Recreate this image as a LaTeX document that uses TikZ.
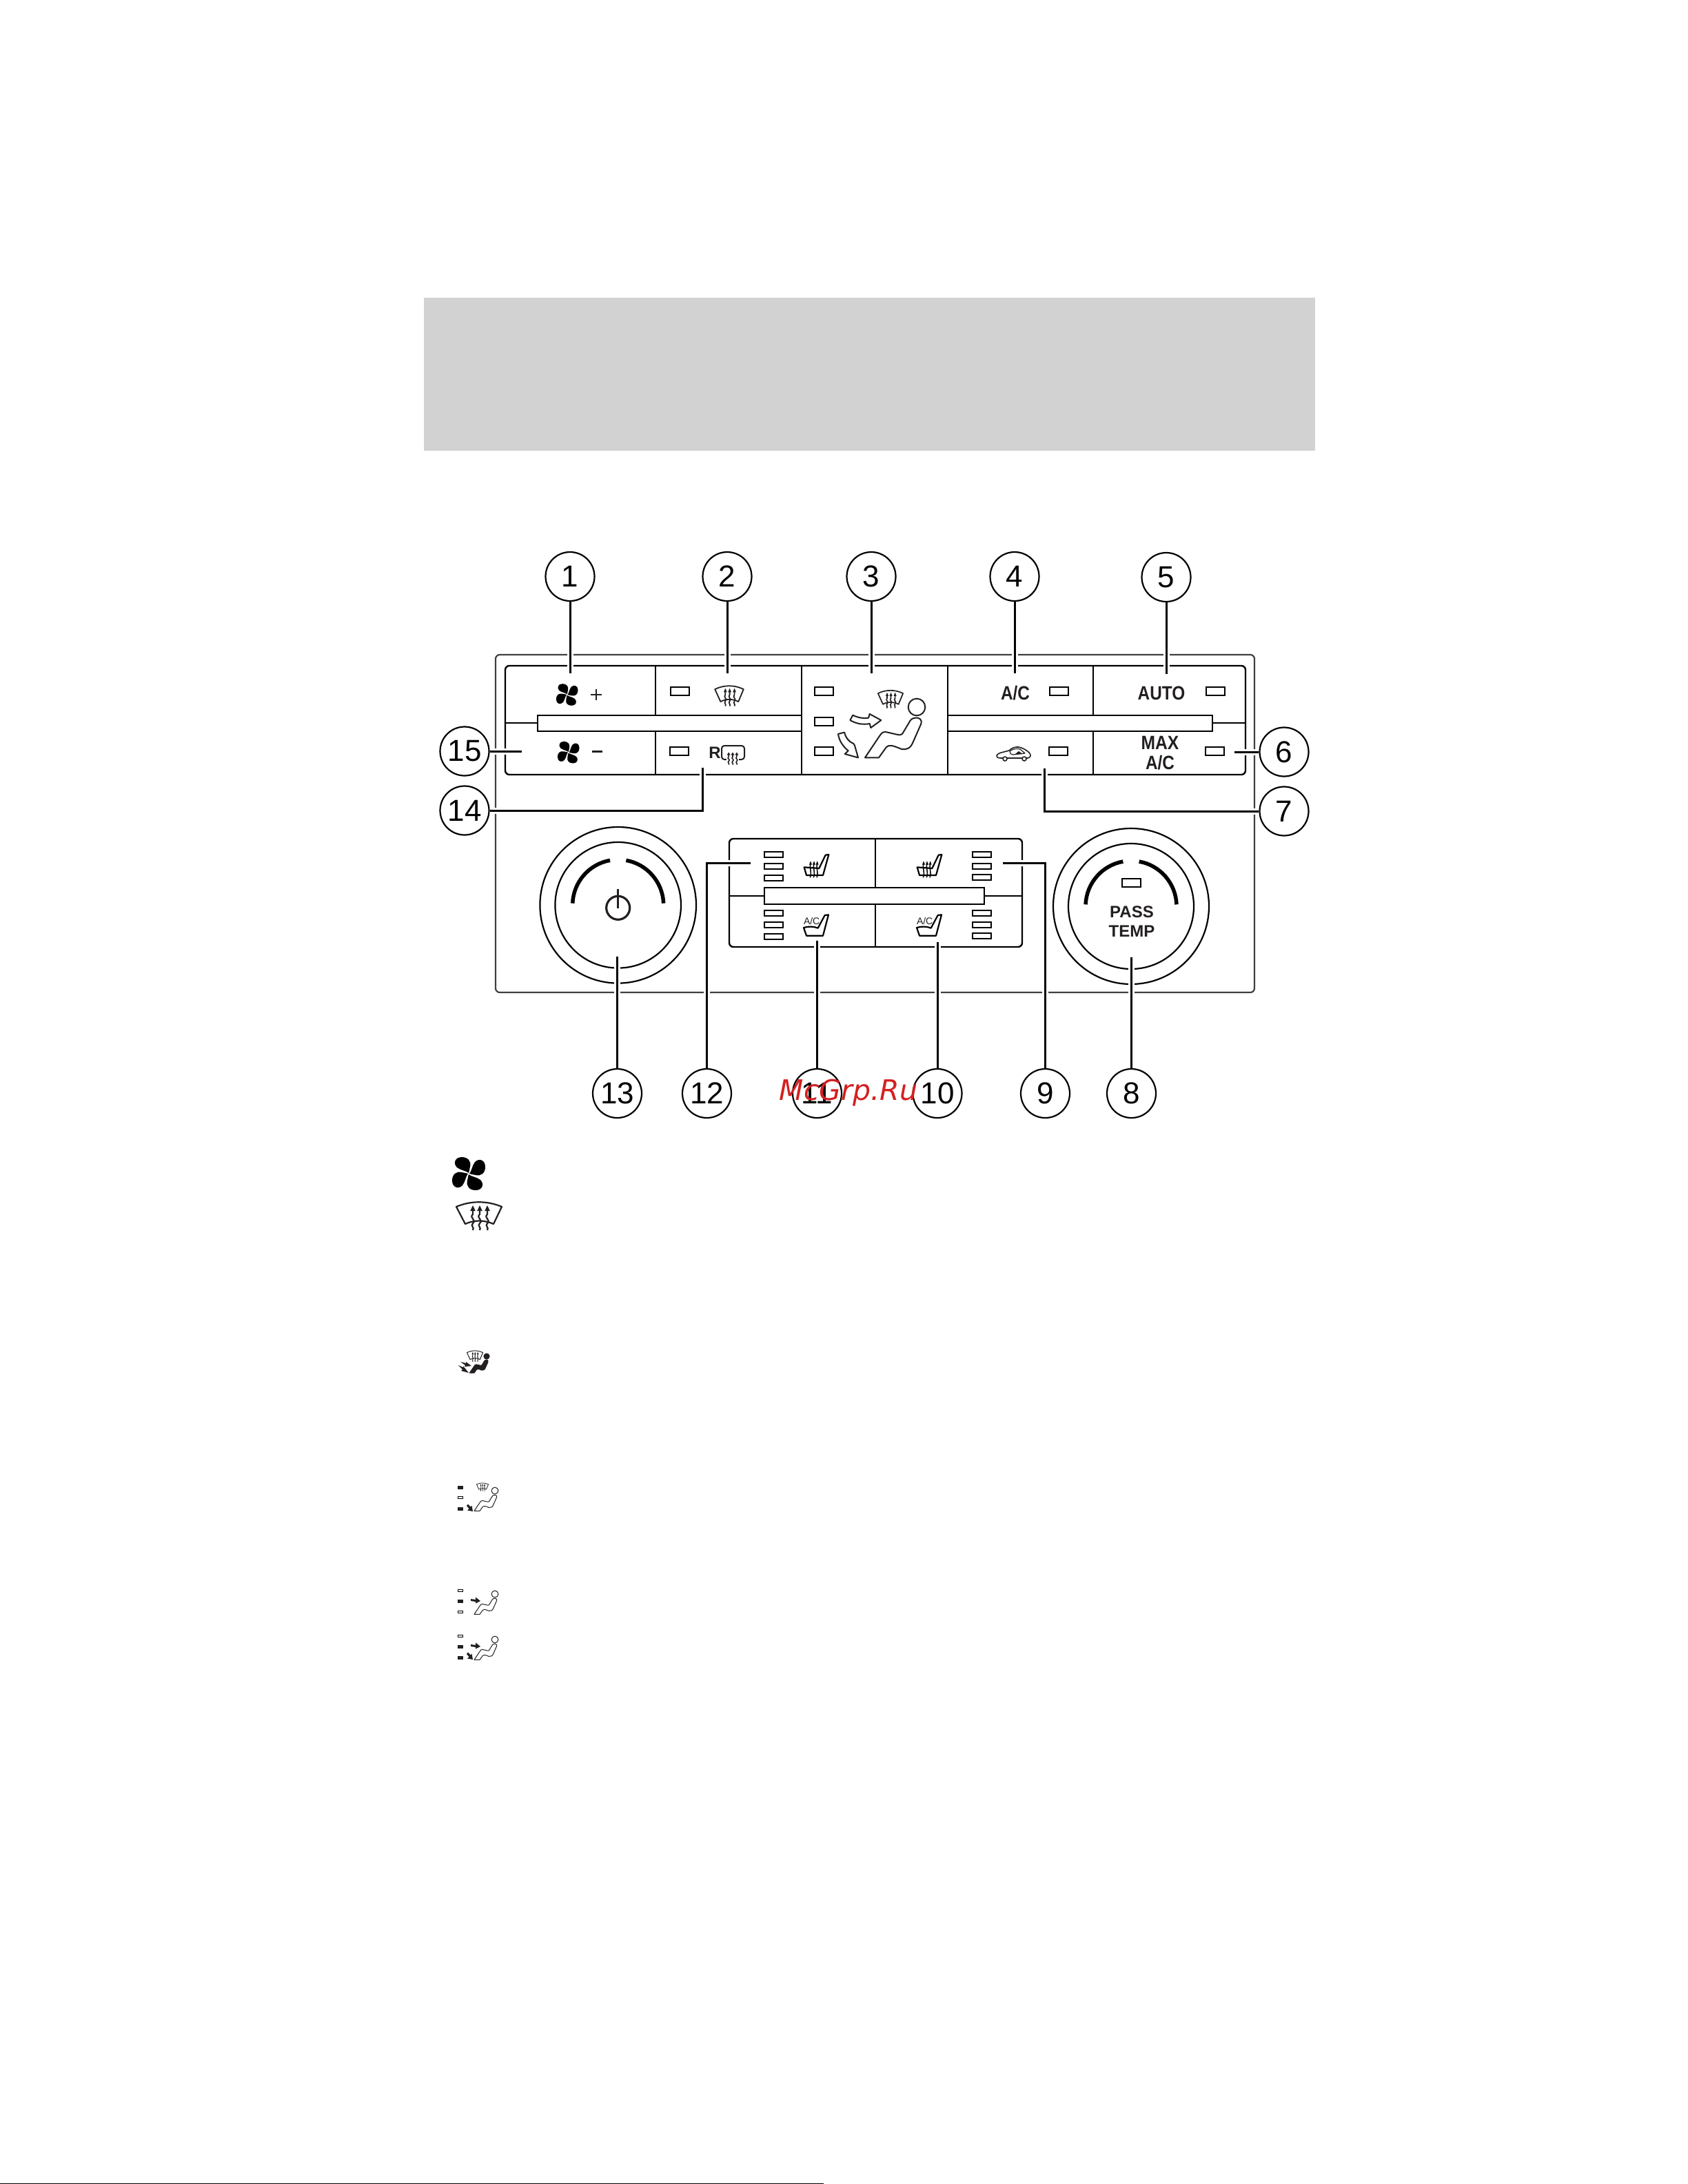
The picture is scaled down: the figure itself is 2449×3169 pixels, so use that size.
\documentclass[tikz,border=0pt]{standalone}
\usepackage{fontspec}
\setmainfont{Liberation Sans}
\newfontfamily\wmfont{DejaVu Sans}
\definecolor{headgray}{HTML}{D2D2D2}
\definecolor{wmred}{HTML}{D42020}
\definecolor{inkdark}{HTML}{231F20}
\newcommand{\fsz}[1]{\fontsize{#1}{#1}\selectfont}
\tikzset{
  callout/.style={circle,draw=black,line width=2.2pt,fill=white,minimum size=71pt,inner sep=0pt,font=\fsz{44}},
  leader/.style={draw=black,line width=3pt,preaction={draw=white,line width=9pt,shorten <=4pt}},
  panelline/.style={draw=black,line width=2.4pt},
  outerline/.style={draw=black!75,line width=2.2pt},
  knobline/.style={draw=black,line width=2.2pt},
  knobarc/.style={draw=black,line width=5.5pt},
  ledbox/.style={rectangle,draw=black,line width=2pt,fill=white,minimum width=27pt,minimum height=12pt,inner sep=0pt},
  seatled/.style={rectangle,draw=black,line width=2pt,fill=white,minimum width=27pt,minimum height=8pt,inner sep=0pt},
  mini/.style={rectangle,draw=black,line width=1pt,fill=white,minimum width=7.5pt,minimum height=3.5pt,inner sep=0pt},
  minion/.style={rectangle,fill=inkdark,minimum width=8.5pt,minimum height=5pt,inner sep=0pt},
  btext/.style={inner sep=0pt,text=inkdark,font=\fsz{28}\bfseries},
  icon/.style={draw=inkdark,line join=round},
}
\newcommand{\fanicon}[3]{\begin{scope}[shift={(#1,#2)},scale=#3]
  \foreach \r in {0,90,180,270}{\fill[black,rotate=\r] (0,-1) .. controls (-3,-4) and (-12,-5) .. (-17,-9) .. controls (-23,-15) and (-20,-24) .. (-10,-24) .. controls (-1,-24) and (4,-18) .. (2,-10) .. controls (1,-6) and (1,-3) .. (0,-1) -- cycle;}
  \fill[white] (0,0) circle (1.5);
\end{scope}}
\newcommand{\wavyarrow}[2]{%
  \draw[icon,line width=#2] (#1,-8) -- (#1,0) .. controls (#1-6,5) and (#1+6,8) .. (#1,13) .. controls (#1-4,17) and (#1+3,19) .. (#1,23);
  \fill[inkdark] (#1,-13) -- (#1-3.8,-5) -- (#1+3.8,-5) -- cycle;}
\newcommand{\defrosticon}[5]{\begin{scope}[shift={(#1,#2)},xscale=#3,yscale=#4]
  \draw[icon,line width=#5] (-33,-11) .. controls (-12,-20) and (12,-20) .. (33,-11) -- (21,14) .. controls (8,8) and (-8,8) .. (-20,14) -- cycle;
  \wavyarrow{-9}{#5}\wavyarrow{1}{#5}\wavyarrow{12}{#5}
\end{scope}}
\newcommand{\personicon}[6]{\begin{scope}[shift={(#1,#2)},scale=#3]
  \draw[icon,line width=#5,fill=#4] (-75,73.3) -- (-55,73.3) -- (-44,58) .. controls (-40,54.5) and (-36,55) .. (-22,61) .. controls (-14,62) and (-9,60) .. (-5,50) -- (6,25) .. controls (9,18) and (3,15) .. (-1,15.5) .. controls (-7,16) and (-9,18) .. (-12,24) -- (-21,39) .. controls (-23,41) and (-25,40.5) .. (-30,39.5) -- (-45,36) .. controls (-50,36) and (-51,38) .. (-54,42) -- cycle;
  \draw[icon,line width=#5,fill=#6] (0,0) circle (12.3);
\end{scope}}
\newcommand{\heatseat}[1]{\begin{scope}[shift={(#1,1190)},scale=1/3]
  \draw[draw=black,line width=2.2pt,line join=round] (440,205) -- (450,240) -- (522,240) -- (547,150) -- (533,152) -- (505,210) -- cycle;
  \foreach \q in {468,483,497}{\draw[black,line width=1.5pt] (\q,188) .. controls (\q-7,205) and (\q+7,225) .. (\q-2,250);
    \fill[black] (\q,178) -- (\q-6,194) -- (\q+6,194) -- cycle;}
\end{scope}}
\newcommand{\acseat}[2]{\begin{scope}[shift={(#1,1190)},scale=1/3]
  \draw[draw=black,line width=2.2pt,line join=round] (438,468) -- (450,503) -- (522,503) -- (546,412) -- (530,414) -- (500,470) .. controls (480,462) and (460,462) .. (438,468) -- cycle;
  \node[inner sep=0pt,font=\fsz{14},text=inkdark] (#2) at (473,440) {A/C};
\end{scope}}
\newcommand{\legendarrowH}[2]{\fill[inkdark,shift={(#1,#2)}] (0,-2) -- (7,-1) -- (7,-4.5) -- (14,1) -- (7,4.5) -- (7,2) -- (0,1) -- cycle;}
\newcommand{\legendarrowD}[2]{\fill[inkdark,shift={(#1,#2)}] (0,2) -- (2,-.5) -- (6,3.5) -- (7.5,1.5) -- (9,10) -- (1,8.5) -- (3.5,6) -- cycle;}
\begin{document}
\begin{tikzpicture}[x=1pt,y=-1pt]
\useasboundingbox (0,0) rectangle (2449,3169);
\fill[white] (0,0) rectangle (2449,3169);
\fill[headgray] (615,432) rectangle (1908,654);
\fill[black] (0,3167.5) rectangle (1195,3169);

% outer panel
\draw[outerline,rounded corners=6pt] (719,950) rectangle (1820,1440);
% button panel
\draw[panelline] (951,966) -- (951,1124) (1163,966) -- (1163,1124) (1375,966) -- (1375,1124) (1586,966) -- (1586,1124);
\draw[panelline] (733,1049) -- (780,1049) (1759,1049) -- (1807,1049);
\draw[panelline,rounded corners=6pt] (733,966) rectangle (1807,1124);
\draw[panelline,fill=white] (780,1038) rectangle (1163,1061);
\draw[panelline,fill=white] (1375,1038) rectangle (1759,1061);

% LEDs, button panel
\node[ledbox] (l1) at (986,1002.5) {};
\node[ledbox] (l2) at (985,1090) {};
\node[ledbox] (l3) at (1195,1002.5) {};
\node[ledbox] (l4) at (1195,1046.5) {};
\node[ledbox] (l5) at (1195,1090) {};
\node[ledbox] (l6) at (1536,1002.5) {};
\node[ledbox] (l7) at (1763.5,1002.5) {};
\node[ledbox] (l8) at (1535.5,1090) {};
\node[ledbox] (l9) at (1762.5,1090) {};

% button icons
\fanicon{822.7}{1008}{.66}
\fanicon{824.7}{1091.7}{.66}
\draw[inkdark,line width=2pt] (857,1008) -- (873,1008) (865,1000) -- (865,1016);
\draw[inkdark,line width=3pt] (859,1090) -- (874,1090);
\defrosticon{1058}{1008}{.63}{.72}{1.8pt}
\node[btext,font=\fsz{24}\bfseries] (rtxt) at (1037,1092) {R};
\draw[icon,line width=2pt,rounded corners=4pt] (1047,1082) rectangle (1080,1102);
\begin{scope}[shift={(1063,1098)},xscale=.65,yscale=.5]
 \fill[white] (-14,-16) rectangle (14,24);
 \wavyarrow{-9}{1.6pt}\wavyarrow{0}{1.6pt}\wavyarrow{9}{1.6pt}
\end{scope}
\draw[icon,line width=2pt] (1047,1092) -- (1047,1095);
\node[btext] (ac) at (1473,1006) {\scalebox{.87}[1]{A/C}};
\node[btext] (auto) at (1685,1006) {\scalebox{.87}[1]{AUTO}};
\node[btext] (max) at (1683,1078) {\scalebox{.88}[1]{MAX}};
\node[btext] (ac2) at (1683,1107) {\scalebox{.87}[1]{A/C}};

% car
\draw[icon,line width=1.6pt,fill=white] (1452,1100) .. controls (1447,1100) and (1445,1098) .. (1446,1096) .. controls (1448,1092) and (1458,1091) .. (1464,1089) .. controls (1468,1085) and (1473,1083.5) .. (1478,1084) .. controls (1484,1085) and (1490,1089) .. (1493,1092) .. controls (1496,1095) and (1496,1099) .. (1491,1100) -- cycle;
\draw[icon,line width=1.6pt,fill=white] (1458,1101) circle (3) (1486,1101) circle (3);
\draw[icon,line width=1.2pt] (1465,1090) .. controls (1470,1086) and (1476,1086) .. (1480,1087) -- (1487,1093) -- (1470,1095) .. controls (1466,1095) and (1465,1092) .. (1465,1090);
\fill[inkdark] (1473,1094) -- (1478,1090) -- (1484,1094) -- cycle;

% central mode icon
\defrosticon{1292}{1013}{.55}{.63}{1.7pt}
\personicon{1330}{1026}{1}{white}{2pt}{white}
\begin{scope}[shift={(1160,970)},scale=1/3]
 \draw[icon,line width=2pt] (220,225) -- (232,203) .. controls (255,215) and (280,218) .. (300,215) -- (305,198) -- (355,225) -- (310,258) -- (305,240) .. controls (275,246) and (245,240) .. (220,225) -- cycle;
 \draw[icon,line width=2pt] (168,285) -- (195,278) .. controls (200,300) and (215,320) .. (235,327) -- (240,335) -- (255,388) -- (197,372) -- (212,358) .. controls (190,340) and (172,315) .. (168,285) -- cycle;
\end{scope}

% knobs
\node[circle,knobline,minimum size=226.6pt,inner sep=0pt] (k1o) at (896.7,1313.3) {};
\node[circle,knobline,minimum size=182.6pt,inner sep=0pt] (k1i) at (896.7,1313.3) {};
\node[circle,knobline,minimum size=226pt,inner sep=0pt] (k2o) at (1641,1315) {};
\node[circle,knobline,minimum size=182pt,inner sep=0pt] (k2i) at (1641,1315) {};
\draw[knobarc] (830.75,1310.65) arc[start angle=177.7,end angle=100.2,radius=66pt];
\draw[knobarc] (962.65,1310.65) arc[start angle=2.3,end angle=79.8,radius=66pt];
\draw[knobarc] (1575.05,1312.35) arc[start angle=177.7,end angle=100.2,radius=66pt];
\draw[knobarc] (1706.95,1312.35) arc[start angle=2.3,end angle=79.8,radius=66pt];
\node[circle,draw=inkdark,line width=3.2pt,minimum size=34pt,inner sep=0pt] (pwr) at (896.7,1317.3) {};
\coordinate (pwrtop) at (896.7,1290);
\coordinate (pwrend) at (896.7,1318);
\draw[inkdark,line width=3pt] (pwrtop) -- (pwrend);
\node[ledbox,minimum height=12pt] (l10) at (1641.5,1281) {};
\node[btext,font=\fsz{24}\bfseries] (pass) at (1642,1323) {PASS};
\node[btext,font=\fsz{24}\bfseries] (temp) at (1642,1351) {TEMP};

% seat panel
\draw[panelline] (1270,1217) -- (1270,1374) (1058,1300) -- (1483,1300);
\draw[panelline,rounded corners=6pt] (1058,1217) rectangle (1483,1374);
\draw[panelline,fill=white] (1109,1288) rectangle (1428,1312);
\node[seatled] (s1) at (1122.5,1240) {};
\node[seatled] (s2) at (1122.5,1257) {};
\node[seatled] (s3) at (1122.5,1274) {};
\node[seatled] (s4) at (1122.5,1325) {};
\node[seatled] (s5) at (1122.5,1342) {};
\node[seatled] (s6) at (1122.5,1359) {};
\node[seatled] (s7) at (1424,1239.5) {};
\node[seatled] (s8) at (1424,1257) {};
\node[seatled] (s9) at (1424,1273) {};
\node[seatled] (s10) at (1424,1325) {};
\node[seatled] (s11) at (1424,1342) {};
\node[seatled] (s12) at (1424,1358) {};
\heatseat{1020}
\heatseat{1184}
\acseat{1020}{acs1}
\acseat{1184}{acs2}

% callouts
\node[callout] (c1) at (827,836.5) {1};
\node[callout] (c2) at (1055,836.5) {2};
\node[callout] (c3) at (1264,836.5) {3};
\node[callout] (c4) at (1472,836.5) {4};
\node[callout] (c5) at (1692,837.5) {5};
\node[callout] (c6) at (1863,1091) {6};
\node[callout] (c7) at (1863,1177) {7};
\node[callout] (c8) at (1641.5,1586.5) {8};
\node[callout] (c9) at (1516.5,1586.5) {9};
\node[callout] (c10) at (1360,1586.5) {10};
\node[callout] (c11) at (1185.5,1586.5) {11};
\node[callout] (c12) at (1025.5,1586.5) {12};
\node[callout] (c13) at (895.5,1586.5) {13};
\node[callout] (c14) at (674,1176) {14};
\node[callout] (c15) at (674,1090) {15};

% leader ends
\coordinate (e1) at (827,977);
\coordinate (e2) at (1055,977);
\coordinate (e3) at (1264,977);
\coordinate (e4) at (1472,977);
\coordinate (e5) at (1692,978);
\coordinate (e6) at (1791,1091);
\coordinate (e7a) at (1515,1177);
\coordinate (e7) at (1515,1115);
\coordinate (e8) at (1641.5,1389);
\coordinate (e9a) at (1516.5,1252);
\coordinate (e9) at (1455,1252);
\coordinate (e10) at (1360,1367);
\coordinate (e11) at (1185.5,1365);
\coordinate (e12a) at (1025.5,1252);
\coordinate (e12) at (1089,1252);
\coordinate (e13) at (895.5,1388);
\coordinate (e14a) at (1019,1176);
\coordinate (e14) at (1019,1114);
\coordinate (e15) at (757,1090);

\draw[leader] (c1.south) -- (e1);
\draw[leader] (c2.south) -- (e2);
\draw[leader] (c3.south) -- (e3);
\draw[leader] (c4.south) -- (e4);
\draw[leader] (c5.south) -- (e5);
\draw[leader] (c6.west) -- (e6);
\draw[leader] (c7.west) -- (e7a) -- (e7);
\draw[leader] (c8.north) -- (e8);
\draw[leader] (c9.north) -- (e9a) -- (e9);
\draw[leader] (c10.north) -- (e10);
\draw[leader] (c11.north) -- (e11);
\draw[leader] (c12.north) -- (e12a) -- (e12);
\draw[leader] (c13.north) -- (e13);
\draw[leader] (c14.east) -- (e14a) -- (e14);
\draw[leader] (c15.east) -- (e15);

% legend icons
\fanicon{680}{1703}{1}
\defrosticon{695}{1762}{1}{1}{2.2pt}

\personicon{706}{1968}{.33}{inkdark}{1pt}{inkdark}
\defrosticon{689}{1967}{.35}{.4}{1pt}
\fill[inkdark] (668,1976) -- (676,1978) -- (676,1976) -- (684,1982) -- (674,1983) -- (675,1981) -- cycle;
\fill[inkdark] (665,1981) -- (672,1984) -- (672,1982) -- (680,1992) -- (669,1989) -- (671,1987) -- cycle;

\node[minion] (m1) at (668,2158.5) {};
\node[mini] (m2) at (668,2173) {};
\node[minion] (m3) at (668,2189) {};
\legendarrowD{677}{2183}
\defrosticon{700}{2157}{.26}{.29}{.8pt}
\personicon{718}{2163}{.4}{white}{1pt}{white}

\node[mini] (m4) at (668,2308) {};
\node[minion] (m5) at (668,2323) {};
\node[mini] (m6) at (668,2339) {};
\legendarrowH{683}{2322}
\personicon{718}{2313}{.4}{white}{1pt}{white}

\node[mini] (m7) at (668,2374) {};
\node[minion] (m8) at (668,2389) {};
\node[minion] (m9) at (668,2405) {};
\legendarrowH{683}{2388}
\legendarrowD{677}{2398}
\personicon{718}{2379}{.4}{white}{1pt}{white}

% watermark
\node[inner sep=0pt,text=wmred,font=\wmfont\itshape\fsz{41}] (wm) at (1231,1586) {McGrp.Ru};
\end{tikzpicture}
\end{document}
